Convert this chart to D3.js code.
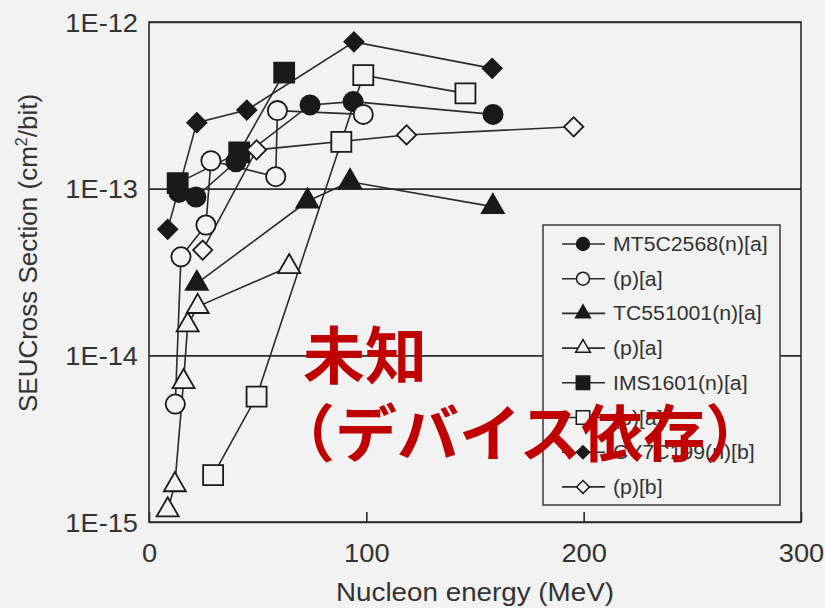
<!DOCTYPE html>
<html>
<head>
<meta charset="utf-8">
<script src="https://cdn.jsdelivr.net/npm/d3@7"></script>
<style>
  html, body { margin: 0; padding: 0; background: #f2f2f2; }
  svg { display: block; }
</style>
</head>
<body>
<svg id="chart" width="825" height="608"></svg>
<script>
// Nucleon energy (MeV) and SEU cross section (cm^2/bit) for each device / particle
const mt5cNE = [13.8, 21.6, 40.0, 74.1, 93.9, 158.3];
const mt5cNSigma = [9.5e-14, 8.9e-14, 1.45e-13, 3.18e-13, 3.33e-13, 2.79e-13];

const mt5cPE = [12.1, 14.7, 26.2, 28.5, 58.3, 59.1, 98.6];
const mt5cPSigma = [5.1e-15, 3.9e-14, 6.05e-14, 1.47e-13, 1.18e-13, 2.94e-13, 2.79e-13];

const tc55NE = [22.0, 72.9, 92.5, 158.2];
const tc55NSigma = [2.7e-14, 8.4e-14, 1.1e-13, 7.8e-14];

const tc55PE = [8.6, 11.9, 15.9, 17.8, 22.4, 64.5];
const tc55PSigma = [1.18e-15, 1.67e-15, 6.95e-15, 1.52e-14, 1.96e-14, 3.4e-14];

const ims16NE = [13.2, 41.5, 62.2];
const ims16NSigma = [1.08e-13, 1.65e-13, 4.97e-13];

const ims16PE = [29.5, 49.5, 88.5, 98.6, 145.6];
const ims16PSigma = [1.91e-15, 5.65e-15, 1.91e-13, 4.8e-13, 3.73e-13];

const cy7cNE = [8.6, 22.0, 45.0, 94.3, 157.9];
const cy7cNSigma = [5.7e-14, 2.49e-13, 2.96e-13, 7.6e-13, 5.27e-13];

const cy7cPE = [24.7, 49.5, 118.5, 195.4];
const cy7cPSigma = [4.28e-14, 1.71e-13, 2.1e-13, 2.35e-13];

const seriesLabels = ["MT5C2568(n)[a]", "(p)[a]", "TC551001(n)[a]", "(p)[a]",
                      "IMS1601(n)[a]", "(p)[a]", "CY7C199(n)[b]", "(p)[b]"];
const xTickValues = [0, 100, 200, 300];
const yTickValues = [1e-12, 1e-13, 1e-14, 1e-15];
const yTickLabels = ["1E-12", "1E-13", "1E-14", "1E-15"];
const xTitle = "Nucleon energy (MeV)";
const overlayLine1 = "未知";
const overlayLine2 = "（デバイス依存）";

// marker style per series: shape name and filled/open
const markerShapes = ["circle", "circle", "triangle", "triangle",
                      "square", "square", "diamond", "diamond"];
const markerFilled = [true, false, true, false, true, false, true, false];

const seriesE = [mt5cNE, mt5cPE, tc55NE, tc55PE, ims16NE, ims16PE, cy7cNE, cy7cPE];
const seriesSigma = [mt5cNSigma, mt5cPSigma, tc55NSigma, tc55PSigma, ims16NSigma, ims16PSigma, cy7cNSigma, cy7cPSigma];
const series = seriesLabels.map((label, i) => ({
  label,
  shape: markerShapes[i],
  filled: markerFilled[i],
  points: seriesE[i].map((e, j) => ({ e, s: seriesSigma[i][j] }))
}));

const BG = "#f2f2f2";
const INK = "#2b2b2b";
const MARK = "#1a1a1a";
const TEXT = "#333333";
const FONT = "'Liberation Sans', Arial, Helvetica, sans-serif";
const STRETCH = 1.09;

const svg = d3.select("#chart");
svg.append("rect").attr("width", 825).attr("height", 608).attr("fill", BG);

const plotL = 149, plotR = 801, plotT = 22, plotB = 522;
const x = d3.scaleLinear().domain([0, 300]).range([plotL, plotR]);
const y = d3.scaleLog().domain([1e-15, 1e-12]).range([plotB, plotT]);

// horizontal decade lines and left tick labels
const yAxis = d3.axisLeft(y)
  .tickValues(yTickValues)
  .tickSize(-(plotR - plotL))
  .tickFormat((d, i) => yTickLabels[i]);
const gy = svg.append("g").attr("transform", `translate(${plotL},0)`).call(yAxis);
gy.select(".domain").remove();
gy.selectAll(".tick line").attr("stroke", INK).attr("stroke-width", 1.6);
gy.selectAll(".tick text")
  .attr("x", null).attr("dy", null)
  .attr("fill", TEXT)
  .attr("font-family", FONT).attr("font-size", 25)
  .attr("text-anchor", "end")
  .attr("transform", `translate(-11,9) scale(${STRETCH},1)`);

// bottom axis with short inward ticks
const xAxis = d3.axisBottom(x)
  .tickValues(xTickValues)
  .tickSizeInner(-10).tickSizeOuter(0)
  .tickFormat(d3.format("d"));
const gx = svg.append("g").attr("transform", `translate(0,${plotB})`).call(xAxis);
gx.select(".domain").remove();
gx.selectAll(".tick line").attr("stroke", INK).attr("stroke-width", 1.6);
gx.selectAll(".tick text")
  .attr("y", null).attr("dy", null)
  .attr("fill", TEXT)
  .attr("font-family", FONT).attr("font-size", 25)
  .attr("text-anchor", "middle")
  .attr("transform", `translate(0,40) scale(${STRETCH},1)`);

// plot frame
svg.append("rect")
  .attr("x", plotL).attr("y", plotT)
  .attr("width", plotR - plotL).attr("height", plotB - plotT)
  .attr("fill", "none").attr("stroke", INK).attr("stroke-width", 1.6);

// axis titles
svg.append("text")
  .attr("transform", `translate(${(plotL + plotR) / 2},601) scale(${STRETCH},1)`)
  .attr("text-anchor", "middle")
  .attr("font-family", FONT).attr("font-size", 25.5).attr("fill", TEXT)
  .text(xTitle);

const yTitle = svg.append("text")
  .attr("transform", `translate(37,253) rotate(-90)`)
  .attr("text-anchor", "middle")
  .attr("font-family", FONT).attr("font-size", 26).attr("fill", TEXT);
yTitle.append("tspan").text("SEUCross Section (cm");
yTitle.append("tspan").attr("font-size", 16).attr("dy", -10).text("2");
yTitle.append("tspan").attr("dy", 10).text("/bit)");

// marker path generator: diamonds are squares turned 45 degrees
function markerPath(shape, k) {
  if (shape === "circle") return d3.symbol().type(d3.symbolCircle).size(290 * k)();
  if (shape === "triangle") return d3.symbol().type(d3.symbolTriangle).size(210 * k)();
  if (shape === "square") return d3.symbol().type(d3.symbolSquare).size(400 * k)();
  return d3.symbol().type(d3.symbolSquare).size(185 * k)();
}
const markerRotate = shape => shape === "diamond" ? " rotate(45)" : "";

// series lines, then markers on top
const line = d3.line().x(d => x(d.e)).y(d => y(d.s));
const plot = svg.append("g");
plot.selectAll("path.series")
  .data(series)
  .join("path")
  .attr("class", "series")
  .attr("d", d => line(d.points))
  .attr("fill", "none").attr("stroke", INK).attr("stroke-width", 1.6);

series.forEach(s => {
  plot.append("g").selectAll("path")
    .data(s.points)
    .join("path")
    .attr("transform", d => `translate(${x(d.e)},${y(d.s)})${markerRotate(s.shape)}`)
    .attr("d", markerPath(s.shape, 1))
    .attr("fill", s.filled ? MARK : BG)
    .attr("stroke", MARK).attr("stroke-width", 1.8);
});

// legend
const legX = 543, legY = 225, legW = 237, legH = 280;
const legend = svg.append("g");
legend.append("rect")
  .attr("x", legX).attr("y", legY).attr("width", legW).attr("height", legH)
  .attr("fill", BG).attr("stroke", "#444").attr("stroke-width", 1.6);
const rowY = i => legY + 19 + i * 34.7;
const rows = legend.selectAll("g.row").data(series).join("g")
  .attr("class", "row")
  .attr("transform", (d, i) => `translate(0,${rowY(i)})`);
rows.append("line")
  .attr("x1", legX + 19).attr("x2", legX + 62)
  .attr("stroke", INK).attr("stroke-width", 1.6);
rows.append("path")
  .attr("transform", d => `translate(${legX + 40},0)${markerRotate(d.shape)}`)
  .attr("d", d => markerPath(d.shape, 0.45))
  .attr("fill", d => d.filled ? MARK : BG)
  .attr("stroke", MARK).attr("stroke-width", 1.5);
rows.append("text")
  .attr("transform", `translate(${legX + 70},7) scale(${STRETCH},1)`)
  .attr("font-family", FONT).attr("font-size", 19.5).attr("fill", TEXT)
  .text(d => d.label);

// red annotation
const note = svg.append("g")
  .attr("font-family", "'Noto Sans CJK JP', 'Noto Sans CJK SC', sans-serif")
  .attr("font-weight", "bold").attr("font-size", 62).attr("fill", "#c00000");
note.append("text").attr("x", 303).attr("y", 379).text(overlayLine1);
note.append("text").attr("x", 273).attr("y", 457).text(overlayLine2);
</script>
</body>
</html>
